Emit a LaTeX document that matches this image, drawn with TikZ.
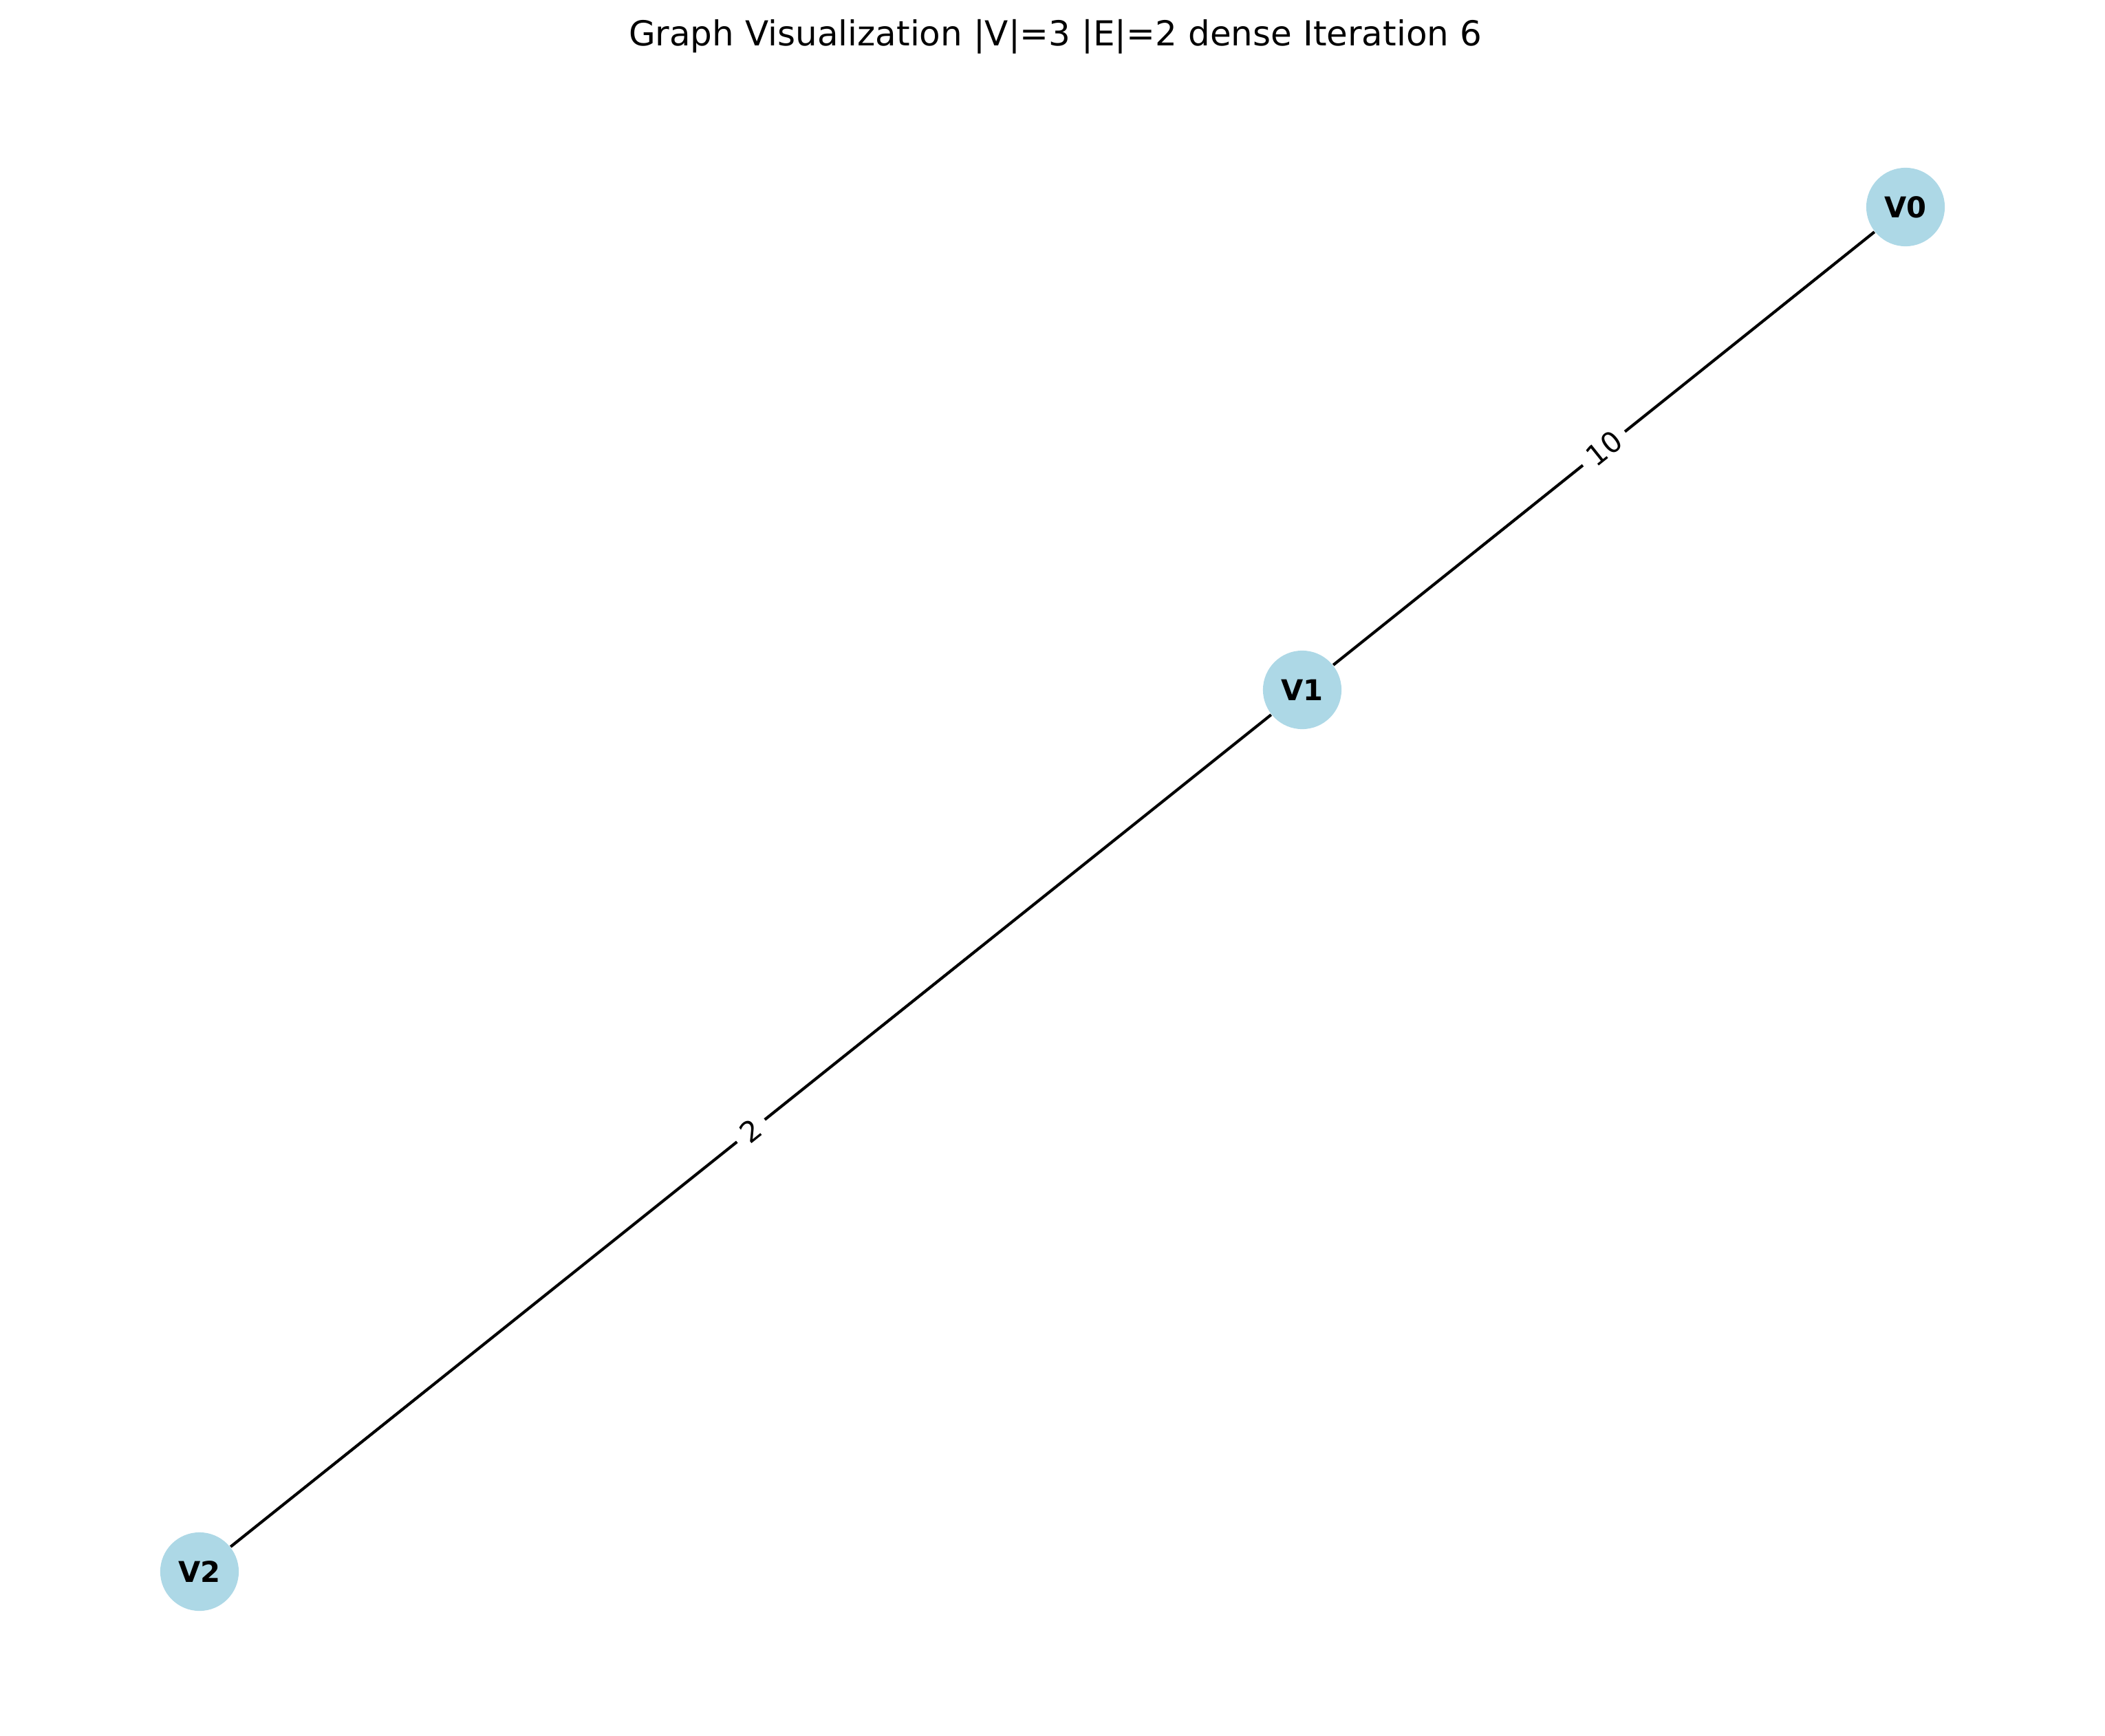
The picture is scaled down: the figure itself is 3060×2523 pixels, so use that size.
\documentclass[tikz,border=0pt]{standalone}
\usepackage{fontspec}
\setmainfont{DejaVu Sans}
\definecolor{nodeblue}{HTML}{ADD8E6}
\begin{document}
\begin{tikzpicture}[x=0.24pt,y=-0.24pt,
  vertex/.style={circle, fill=nodeblue, draw=none, minimum size=27.4pt, inner sep=0pt, font=\fontsize{10}{12}\selectfont\bfseries},
  edge/.style={line width=1pt, black},
  wlabel/.style={sloped, fill=white, rounded corners=3pt, inner sep=3pt, font=\fontsize{10}{12}\selectfont}]
\useasboundingbox (0,0) rectangle (3060,2523);
\node[anchor=base, font=\fontsize{12}{14}\selectfont] (title) at (1534,67) {Graph Visualization |V|=3 |E|=2 dense Iteration 6};
\node[vertex] (v0) at (2770,301) {V0};
\node[vertex] (v1) at (1893,1003) {V1};
\node[vertex] (v2) at (290,2285) {V2};
\draw[edge] (v1) -- node[wlabel] {10} (v0);
\draw[edge] (v2) -- node[wlabel] {2} (v1);
\end{tikzpicture}
\end{document}
